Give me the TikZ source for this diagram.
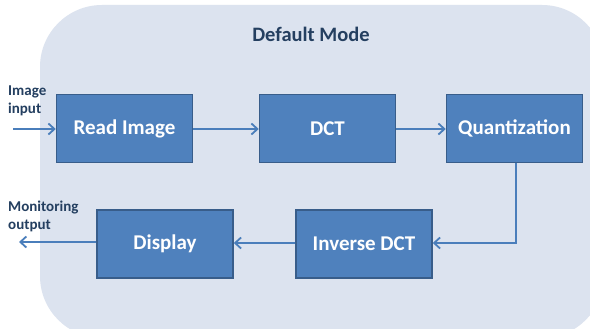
\documentclass[tikz,border=0pt]{standalone}
\usepackage{fontspec}
\setmainfont{Carlito}
\usetikzlibrary{arrows.meta}
\definecolor{panelfill}{HTML}{DCE3EF}
\definecolor{boxfill}{HTML}{4F81BD}
\definecolor{boxline}{HTML}{385D8A}
\definecolor{flow}{HTML}{4A7EBB}
\definecolor{labeltext}{HTML}{243F60}
\tikzset{
  stage/.style={draw=boxline, fill=boxfill, line width=1.5pt, minimum width=136pt,
    minimum height=68pt, inner sep=0pt, text=white,
    font=\fontsize{21}{24}\selectfont\bfseries},
  flowline/.style={draw=flow, line width=2pt,
    -{Straight Barb[length=6pt,width=11pt,line width=1.8pt]}},
  sidelabel/.style={anchor=west, align=left, text=labeltext, inner sep=0pt,
    font=\fontsize{15}{18}\selectfont\bfseries}
}
\begin{document}
\begin{tikzpicture}[x=1pt,y=-1pt]
  \useasboundingbox (0,0) rectangle (590,329);
  \fill[white] (0,0) rectangle (590,329);
  % rounded panel holding the processing chain
  \begin{scope}
    \clip (0,0) rectangle (590,329);
    \fill[panelfill, rounded corners=62pt] (40,5) rectangle (604,338);
  \end{scope}
  \node[text=labeltext, font=\fontsize{20.5}{24}\selectfont\bfseries] (title) at (311,34) {Default Mode};

  % processing stages
  \node[stage] (read)  at (124.5,128.5) {Read Image};
  \node[stage] (dct)   at (327.5,128.5) {DCT};
  \node[stage] (quant) at (514.5,128.5) {Quantization};
  \node[stage] (idct)  at (364,244) {Inverse DCT};
  \node[stage] (disp)  at (165,244) {Display};

  % external ports
  \coordinate (in)  at (13,129);
  \coordinate (out) at (19,242);
  \node[sidelabel] (inlabel)  at (8,101) {Image\\input};
  \node[sidelabel] (outlabel) at (8,216) {Monitoring\\output};

  % data flow
  \draw[flowline] (in) -- (read.west |- in);
  \draw[flowline] (read.east |- 0,129) -- (dct.west |- 0,129);
  \draw[flowline] (dct.east |- 0,129) -- (quant.west |- 0,129);
  \draw[flowline] (quant.south -| 516,0) |- (idct.east |- 0,243);
  \draw[flowline] (idct.west |- 0,243) -- (disp.east |- 0,243);
  \draw[flowline] (disp.west |- out) -- (out);
\end{tikzpicture}
\end{document}
